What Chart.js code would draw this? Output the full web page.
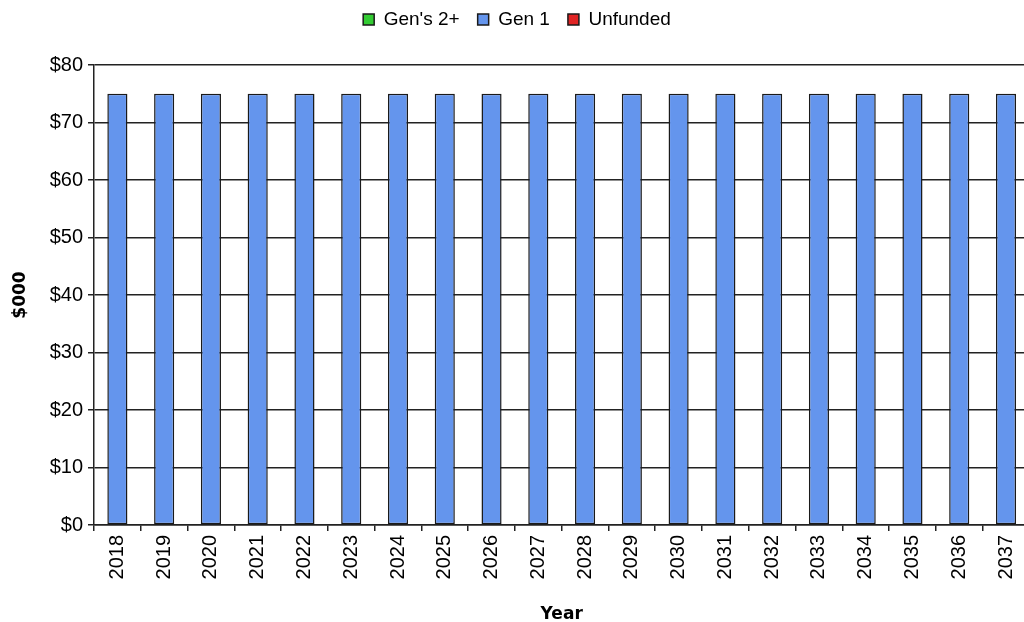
<!DOCTYPE html>
<html>
<head>
<meta charset="utf-8">
<script src="https://cdn.jsdelivr.net/npm/chart.js@4"></script>
<style>
  html, body { margin: 0; padding: 0; background: #fff; overflow: hidden; }
  #wrap { width: 1024px; height: 622px; overflow: hidden; }
</style>
</head>
<body>
<div id="wrap"><canvas id="chart" width="1034" height="622"></canvas></div>
<script>
// chart data
const years = ['2018', '2019', '2020', '2021', '2022', '2023', '2024', '2025', '2026', '2027',
               '2028', '2029', '2030', '2031', '2032', '2033', '2034', '2035', '2036', '2037'];
const gen2Plus = [0, 0, 0, 0, 0, 0, 0, 0, 0, 0, 0, 0, 0, 0, 0, 0, 0, 0, 0, 0];
const gen1 = [75, 75, 75, 75, 75, 75, 75, 75, 75, 75, 75, 75, 75, 75, 75, 75, 75, 75, 75, 75];
const unfunded = [0, 0, 0, 0, 0, 0, 0, 0, 0, 0, 0, 0, 0, 0, 0, 0, 0, 0, 0, 0];
const yTicks = [0, 10, 20, 30, 40, 50, 60, 70, 80];

// legend gets a fixed height so the plot starts where the original does
const legendHeight = {
    id: 'legendHeight',
    beforeInit(chart) {
        const fit = chart.legend.fit;
        chart.legend.fit = function () {
            fit.call(this);
            this.height = 73;
        };
    }
};

const ctx = document.getElementById('chart').getContext('2d');
new Chart(ctx, {
    type: 'bar',
    data: {
        labels: years,
        datasets: [
            { label: "Gen's 2+", data: gen2Plus, backgroundColor: '#33CC33', borderColor: '#1a1a1a', borderWidth: 1.5 },
            { label: 'Gen 1', data: gen1, backgroundColor: '#6495ED', borderColor: '#1a1a1a', borderWidth: 1.5 },
            { label: 'Unfunded', data: unfunded, backgroundColor: '#E02424', borderColor: '#1a1a1a', borderWidth: 1.5 }
        ]
    },
    options: {
        responsive: false,
        animation: false,
        layout: { padding: { top: -8, left: 0, right: 0, bottom: 0 } },
        datasets: {
            bar: { categoryPercentage: 1, barPercentage: 0.43, borderSkipped: false }
        },
        plugins: {
            legend: {
                position: 'top',
                labels: {
                    boxWidth: 11,
                    boxHeight: 11,
                    padding: 18,
                    color: '#000',
                    font: { family: 'Liberation Sans', size: 19 }
                }
            },
            tooltip: { enabled: false }
        },
        scales: {
            x: {
                stacked: true,
                offset: true,
                grid: { drawOnChartArea: false, drawTicks: true, tickLength: 6, color: '#222', lineWidth: 1.5, offset: true },
                border: { color: '#222', width: 1.5 },
                ticks: {
                    minRotation: 90, maxRotation: 90, padding: 4, color: '#000',
                    autoSkip: false,
                    font: { family: 'Liberation Sans', size: 20 }
                },
                title: {
                    display: true, text: 'Year', color: '#000',
                    padding: { top: 0, bottom: -3 },
                    font: { family: 'DejaVu Sans', size: 17, weight: 'bold' }
                },
                afterFit: s => { s.height = 97; }
            },
            y: {
                stacked: true,
                min: 0,
                max: 80,
                afterBuildTicks: s => { s.ticks = yTicks.map(v => ({ value: v })); },
                grid: { color: '#222', tickLength: 6, lineWidth: 1.5 },
                border: { color: '#222', width: 1.5 },
                ticks: {
                    padding: 5, color: '#000',
                    font: { family: 'Liberation Sans', size: 20 },
                    callback: v => '$' + v
                },
                title: {
                    display: true, text: '$000', color: '#000',
                    padding: { top: 10, bottom: 0 },
                    font: { family: 'DejaVu Sans', size: 17, weight: 'bold' }
                },
                afterFit: s => { s.width = 94; }
            }
        }
    },
    plugins: [legendHeight]
});
</script>
</body>
</html>
